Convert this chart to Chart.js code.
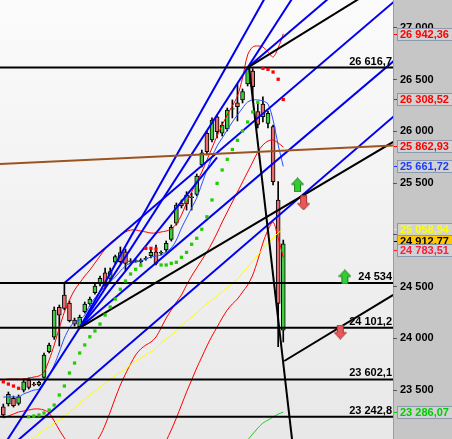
<!DOCTYPE html>
<html>
<head>
<meta charset="utf-8">
<script src="https://cdn.jsdelivr.net/npm/chart.js@4.4.1/dist/chart.umd.min.js"></script>
<style>
  html, body { margin: 0; padding: 0; background: #fff; }
  canvas { display: block; }
</style>
</head>
<body>
<canvas id="chart" width="452" height="439"></canvas>
<script>
// daily candles, oldest first
const opens  = [23339,23365,23420,23372,23500,23597,23558,23549,23623,23870,24010,24300,24419,24338,24177,24112,24257,24332,24441,24525,24634,24580,24735,24828,24837,24750,24745,24738,24768,24799,24837,24822,24854,24957,25112,25308,25298,25360,25392,25675,25982,25917,26142,25982,26023,26214,26275,26304,26458,26584,26191,26265,26078,26046,25337,24080];
const highs  = [23365,23481,23442,23452,23607,23616,23575,23587,23858,23955,24303,24322,24534,24361,24196,24225,24351,24399,24525,24602,24680,24680,24805,24883,24863,24770,24765,24770,24790,24863,24902,24845,24941,25095,25308,25337,25417,25405,25588,25820,26004,26130,26159,26091,26226,26304,26458,26410,26616.7,26605,26275,26333,26197,26062,25514,24950];
const lows   = [23239,23346,23336,23355,23481,23510,23540,23539,23616,23858,23990,23926,24274,24158,24119,24101.2,24245,24312,24428,24506,24496,24564,24718,24728,24660,24730,24735,24725,24755,24776,24709,24805,24834,24940,25095,25260,25240,25240,25376,25656,25772,25898,25936,25956,26004,26130,26101,26275,26439,26304,26033,26091,26033,25482,23919,23964];
const closes = [23259,23459,23348,23435,23580,23526,23550,23575,23839,23935,24274,24225,24290,24170,24138,24203,24332,24380,24506,24580,24515,24644,24789,24740,24725,24742,24752,24757,24775,24831,24725,24830,24918,25073,25289,25279,25385,25368,25569,25794,25804,26110,25997,26062,26207,26220,26239,26384,26603,26432,26067,26142,26175,25514,24338,24912.77];

// indicators
const upperBand = [23597,23607,23607,23607,23607,23616,23626,23636,23674,23790,23935,24100,24254,24370,24467,24535,24602,24660,24728,24796,24863,24921,24960,24999,25028,25047,25047,25037,25028,25018,25018,25028,25037,25057,25105,25192,25308,25414,25511,25608,25724,25840,25956,26062,26159,26246,26342,26516,26739,26816,26826,26816,26768,26719,26806,26942.36];
const lowerBand = [23230,23249,23268,23288,23297,23307,23317,23317,23307,23278,23201,23114,23037,22969,22920,22901,22901,22930,22988,23056,23162,23288,23423,23549,23655,23752,23839,23897,23935,23964,24013,24100,24196,24274,24351,24419,24515,24602,24680,24757,24834,24921,25018,25124,25221,25318,25414,25511,25608,25704,25801,25869,25907,25917,25888,25849];
const lowerEnv  = [null,null,null,null,null,null,null,null,null,null,null,null,null,null,null,null,null,null,null,null,null,null,null,null,null,null,null,null,null,null,22727,22872,23007,23114,23230,23355,23481,23597,23713,23819,23926,24022,24109,24196,24274,24332,24380,24448,24515,24612,24757,24921,25047,25124,24970,24783.51];
const fastAvg   = [23433,23433,23433,23433,23462,23481,23500,23510,23578,23645,23742,23868,24003,24100,24158,24177,24225,24322,24390,24448,24496,24544,24593,24651,24699,24728,24738,24747,24767,24786,24796,24805,24834,24873,24950,25066,25163,25260,25356,25492,25627,25753,25859,25936,26014,26091,26159,26226,26284,26304,26304,26294,26265,26110,25869,25661.72];
const midAvg    = [null,null,null,null,null,23007,23037,23075,23114,23143,23181,23210,23239,23288,23326,23375,23413,23452,23491,23529,23568,23607,23636,23674,23703,23742,23781,23810,23839,23868,23906,23955,23993,24032,24071,24119,24167,24206,24245,24293,24332,24370,24409,24448,24486,24535,24573,24631,24689,24747,24805,24863,24921,24970,25018,25058.94];
const slowAvg   = [null,null,null,null,null,null,null,null,null,null,null,null,null,null,null,null,null,null,null,null,null,null,null,null,null,null,null,null,null,null,null,null,null,null,null,null,null,null,null,null,null,null,null,null,null,null,null,null,23017,23075,23133,23181,23210,23239,23268,23286.07];
const sarBull   = [null,null,null,null,null,23242,23249,23259,23278,23307,23355,23452,23539,23665,23761,23858,23936,24015,24071,24138,24225,24303,24380,24474,24554,24622,24667,24706,null,null,null,24709,24709,24725,24735,24783,24831,24909,24967,25054,25175,25337,25498,25627,25730,25825,25914,26004,26091,26188,26281,null,null,null,null,null];
const sarBear   = [23580,23558,23539,23517,null,null,null,null,null,null,null,null,null,null,null,null,null,null,null,null,null,null,null,null,null,null,null,null,24870,24870,24863,null,null,null,null,null,null,null,null,null,null,null,null,null,null,null,null,null,null,null,null,26610,26600,26574,26504,26308.52];

// horizontal levels
const levels = [26616.7, 24534, 24101.2, 23602.1, 23242.8];
const levelLabels = ['26 616,7', '24 534', '24 101,2', '23 602,1', '23 242,8'];

// drawn trend lines, [session, price]
const blueLines = [
  [[-3, 22729], [62, 27684]],
  [[15, 24101.2], [42, 25748]],
  [[15, 24101.2], [55, 27605]],
  [[48, 26616.7], [78, 27877]],
  [[12, 24534], [78, 27306]],
  [[15, 24101.2], [78, 26734]],
  [[2, 22978], [78, 26200]]
];
const blackLines = [
  [[48, 26616.7], [72, 27346]],
  [[48.3, 26616.7], [57.2, 22822]],
  [[15, 24101.2], [76.6, 25898]],
  [[55.2, 23781], [76.6, 24419]]
];
const brownLine = [[-0.65, 25685], [76.6, 25862.93]];

// signal arrows
const arrowsUp = [[57.8, 25482], [67.1, 24593]];
const arrowsDown = [[59.0, 25308], [66.2, 24061]];

// last values shown on the price axis
const tagValues = [26942.36, 26308.52, 25862.93, 25661.72, 25058.94, 24912.77, 24783.51, 23286.07];
const priceTicks = [23500, 24000, 24500, 25000, 25500, 26000, 26500, 27000];

const xMin = -0.65, xMax = 76.56, yMin = 23027, yMax = 27270;

function fmt(v, dec) {
  const s = v.toFixed(dec).split('.');
  const int = s[0].replace(/\B(?=(\d{3})+(?!\d))/g, ' ');
  return s[1] ? int + ',' + s[1] : int;
}

const tagStyles = [
  {color: '#ff0000', bg: '#d2d2d2'},
  {color: '#ff0000', bg: '#d2d2d2'},
  {color: '#ff0000', bg: '#d2d2d2'},
  {color: '#1a3cff', bg: '#d2d2d2'},
  {color: '#ffff00', bg: '#d2d2d2'},
  {color: '#000000', bg: '#ffc800', nudge: -3},
  {color: '#ff1a40', bg: '#d2d2d2', nudge: -7},
  {color: '#00cc00', bg: '#d2d2d2'}
];

function arrowImage(up, fill, stroke) {
  const c = document.createElement('canvas');
  c.width = 13; c.height = 15;
  const g = c.getContext('2d');
  g.save();
  if (!up) { g.translate(0, 15); g.scale(1, -1); }
  g.beginPath();
  g.moveTo(6.5, 0.5); g.lineTo(12.5, 7); g.lineTo(9.5, 7); g.lineTo(9.5, 14.5);
  g.lineTo(3.5, 14.5); g.lineTo(3.5, 7); g.lineTo(0.5, 7); g.closePath();
  g.fillStyle = fill; g.fill();
  g.strokeStyle = stroke; g.lineWidth = 1; g.stroke();
  g.restore();
  return c;
}

const idx = opens.map((_, i) => i);
const series = arr => arr.map((v, i) => ({x: i, y: v}));
const pairs = arr => arr.map(p => ({x: p[0], y: p[1]}));

const datasets = [];
datasets.push({
  type: 'bar', data: idx.map(i => ({x: i, y: [lows[i], highs[i]]})),
  backgroundColor: '#000', barThickness: 1, grouped: false, order: 20
});
datasets.push({
  type: 'bar', data: idx.map(i => ({x: i, y: [opens[i], closes[i]]})),
  backgroundColor: idx.map(i => closes[i] >= opens[i] ? '#3fcc3f' : '#e46c6c'),
  borderColor: '#000', borderWidth: 1, borderSkipped: false,
  barThickness: 4, grouped: false, order: 19
});
const curve = (arr, color) => ({
  type: 'line', data: series(arr), borderColor: color, borderWidth: 1,
  pointRadius: 0, tension: 0.3, order: 10
});
datasets.push(curve(midAvg, '#ffff00'));
datasets.push(curve(slowAvg, '#22cc22'));
datasets.push(curve(lowerEnv, '#ff0000'));
datasets.push(curve(lowerBand, '#ff0000'));
datasets.push(curve(upperBand, '#ff0000'));
datasets.push(curve(fastAvg, '#2a50ff'));
const straight = (pts, color) => ({
  type: 'line', data: pairs(pts), borderColor: color, borderWidth: 2,
  pointRadius: 0, tension: 0, order: 5
});
levels.forEach(v => datasets.push(straight([[-2, v], [80, v]], '#000')));
datasets.push(straight(brownLine, '#9a5420'));
blackLines.forEach(l => datasets.push(straight(l, '#000')));
blueLines.forEach(l => datasets.push(straight(l, '#0000f0')));
const dots = (arr, color) => ({
  type: 'line', data: series(arr), showLine: false, pointStyle: 'rect',
  pointRadius: 2.3, pointBorderWidth: 0, pointBackgroundColor: color, order: 2
});
datasets.push(dots(sarBull, '#22cc00'));
datasets.push(dots(sarBear, '#ff0000'));
datasets.push({type: 'line', data: pairs(arrowsUp), showLine: false, order: 1,
  pointRadius: 7, pointStyle: arrowImage(true, '#33cc33', '#1a7f1a')});
datasets.push({type: 'line', data: pairs(arrowsDown), showLine: false, order: 1,
  pointRadius: 7, pointStyle: arrowImage(false, '#e85858', '#a83030')});
datasets.forEach(d => { d.clip = 0; });

const background = {
  id: 'background',
  beforeDraw(chart) {
    const {ctx, chartArea: a, width, height} = chart;
    ctx.save();
    const g = ctx.createLinearGradient(0, a.top, 0, a.bottom);
    g.addColorStop(0, '#fbfbfb');
    g.addColorStop(1, '#e8e8e8');
    ctx.fillStyle = g;
    ctx.fillRect(a.left, a.top, a.right - a.left, a.bottom - a.top);
    ctx.fillStyle = '#c6c6c6';
    ctx.fillRect(a.right, 0, width - a.right, height);
    ctx.fillStyle = '#9c9c9c';
    ctx.fillRect(a.right, 0, 1, height);
    ctx.restore();
  }
};

const levelText = {
  id: 'levelText',
  afterDatasetsDraw(chart) {
    const {ctx, chartArea: a, scales: {y}} = chart;
    ctx.save();
    ctx.beginPath();
    ctx.rect(a.left, a.top, a.right - a.left, a.bottom - a.top);
    ctx.clip();
    ctx.font = 'bold 11px "Liberation Sans", Arial, sans-serif';
    ctx.fillStyle = '#000';
    ctx.textAlign = 'right';
    levels.forEach((v, i) => ctx.fillText(levelLabels[i], a.right - 1, y.getPixelForValue(v) - 3));
    ctx.restore();
  }
};

const axisTags = {
  id: 'axisTags',
  afterDraw(chart) {
    const {ctx, chartArea: a, scales: {y}} = chart;
    ctx.save();
    ctx.font = 'bold 11px "Liberation Sans", Arial, sans-serif';
    ctx.textBaseline = 'middle';
    ctx.textAlign = 'left';
    tagValues.forEach((v, i) => {
      const st = tagStyles[i];
      const py = Math.round(y.getPixelForValue(v) + (st.nudge || 0));
      ctx.fillStyle = st.color;
      ctx.fillRect(a.right + 1, py, 4, 1);
      ctx.fillStyle = st.bg;
      ctx.fillRect(a.right + 4, py - 6, 60, 13);
      ctx.strokeStyle = '#8a9aae';
      ctx.lineWidth = 1;
      ctx.strokeRect(a.right + 4.5, py - 5.5, 60, 12);
      ctx.fillStyle = st.color;
      ctx.fillText(fmt(v, 2), a.right + 7, py + 1);
    });
    ctx.restore();
  }
};

new Chart(document.getElementById('chart'), {
  type: 'bar',
  data: {datasets},
  options: {
    responsive: false,
    animation: false,
    events: [],
    layout: {padding: 0, autoPadding: false},
    elements: {point: {hoverRadius: 0, hitRadius: 0}},
    plugins: {legend: {display: false}, tooltip: {enabled: false}},
    scales: {
      x: {type: 'linear', min: xMin, max: xMax, offset: false, display: false},
      y: {
        position: 'right', min: yMin, max: yMax,
        border: {display: false},
        grid: {drawOnChartArea: false, drawTicks: true, tickLength: 4, tickColor: '#555'},
        ticks: {
          padding: 3, color: '#000',
          font: {family: '"Liberation Sans", Arial, sans-serif', size: 11, weight: 'bold'},
          callback: v => fmt(v, 0)
        },
        afterBuildTicks(s) { s.ticks = priceTicks.map(v => ({value: v})); },
        afterFit(s) { s.width = 59; s.paddingTop = 0; s.paddingBottom = 0; }
      }
    }
  },
  plugins: [background, levelText, axisTags]
});
</script>
</body>
</html>
